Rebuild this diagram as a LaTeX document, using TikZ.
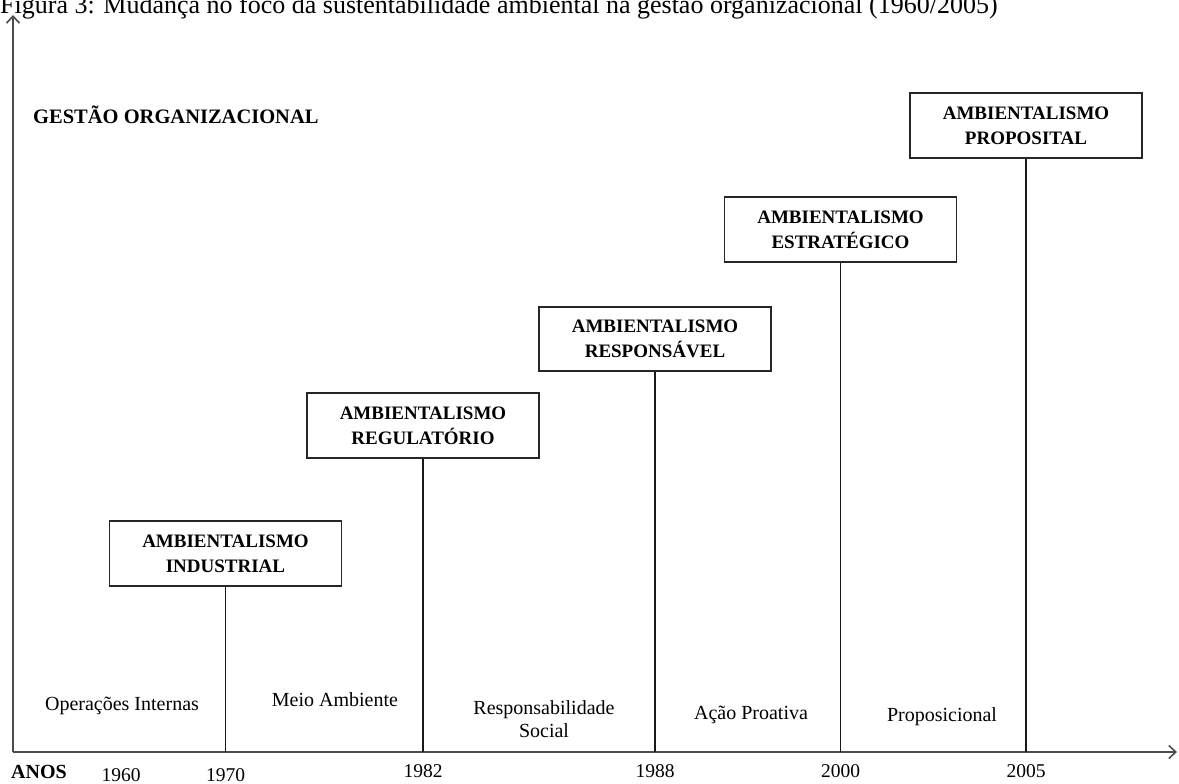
\documentclass[tikz,border=0pt]{standalone}
\usepackage{fontspec}
\setmainfont{Liberation Serif}
\usetikzlibrary{arrows.meta}
\begin{document}
\begin{tikzpicture}[x=1pt,y=-1pt,
  phase/.style={draw=black!85, line width=1.7pt, minimum width=232pt, minimum height=65pt, inner sep=0pt, align=center,
    font=\fontsize{19}{25}\selectfont\bfseries},
  axis/.style={draw=black!70, line width=2pt},
  stem/.style={draw=black!90, line width=1.5pt},
  focus/.style={font=\fontsize{20}{24}\selectfont, align=center},
  yearlbl/.style={font=\fontsize{19.5}{22}\selectfont, anchor=base},
  tip/.style={-{Straight Barb[length=7pt,width=13pt,line width=1.6pt]}}
]
\useasboundingbox (0,0) rectangle (1179,784);

% title
\node[anchor=base west, inner sep=0pt, font=\fontsize{26}{30}\selectfont] (title) at (0,14) {Figura 3: Mudança no foco da sustentabilidade ambiental na gestão organizacional (1960/2005)};

% axes
\coordinate (O) at (13,752);
\coordinate (ytop) at (13,15);
\coordinate (xend) at (1177,752);
\draw[axis,tip] (O) -- (ytop);
\draw[axis,tip] (O) -- (xend);

\node[anchor=base west, inner sep=0pt, font=\fontsize{20.5}{24}\selectfont\bfseries] (gestao) at (33,123) {GESTÃO ORGANIZACIONAL};

% boxes
\node[phase] (ind) at (225.5,553.5) {AMBIENTALISMO\\INDUSTRIAL};
\node[phase] (reg) at (423,425.5) {AMBIENTALISMO\\REGULATÓRIO};
\node[phase, minimum height=64pt] (res) at (655,339) {AMBIENTALISMO\\RESPONSÁVEL};
\node[phase] (est) at (840.5,229.5) {AMBIENTALISMO\\ESTRATÉGICO};
\node[phase] (pro) at (1026,125.5) {AMBIENTALISMO\\PROPOSITAL};

% stems
\draw[stem] (ind.south) -- (ind.south |- O);
\draw[stem] (reg.south) -- (reg.south |- O);
\draw[stem] (res.south) -- (res.south |- O);
\draw[stem] (est.south) -- (est.south |- O);
\draw[stem] (pro.south) -- (pro.south |- O);

% focus labels
\node[focus, anchor=base] (f1) at (122,710) {Operações Internas};
\node[focus, anchor=base] (f2) at (335,706) {Meio Ambiente};
\node[focus, anchor=base] (f3) at (544,714) {Responsabilidade};
\node[focus, anchor=base] (f3b) at (544,737) {Social};
\node[focus, anchor=base] (f4) at (751,719) {Ação Proativa};
\node[focus, anchor=base] (f5) at (942,721) {Proposicional};

% years
\node[anchor=base west, inner sep=0pt, font=\fontsize{20}{24}\selectfont\bfseries] (anos) at (11,778) {ANOS};
\node[yearlbl, inner sep=0pt] (y1960) at (121,781) {1960};
\node[yearlbl, inner sep=0pt] (y1970) at (ind.south |- 0,781) {1970};
\node[yearlbl, inner sep=0pt] (y1982) at (reg.south |- 0,777) {1982};
\node[yearlbl, inner sep=0pt] (y1988) at (res.south |- 0,777) {1988};
\node[yearlbl, inner sep=0pt] (y2000) at (est.south |- 0,777) {2000};
\node[yearlbl, inner sep=0pt] (y2005) at (pro.south |- 0,777) {2005};
\end{tikzpicture}
\end{document}
